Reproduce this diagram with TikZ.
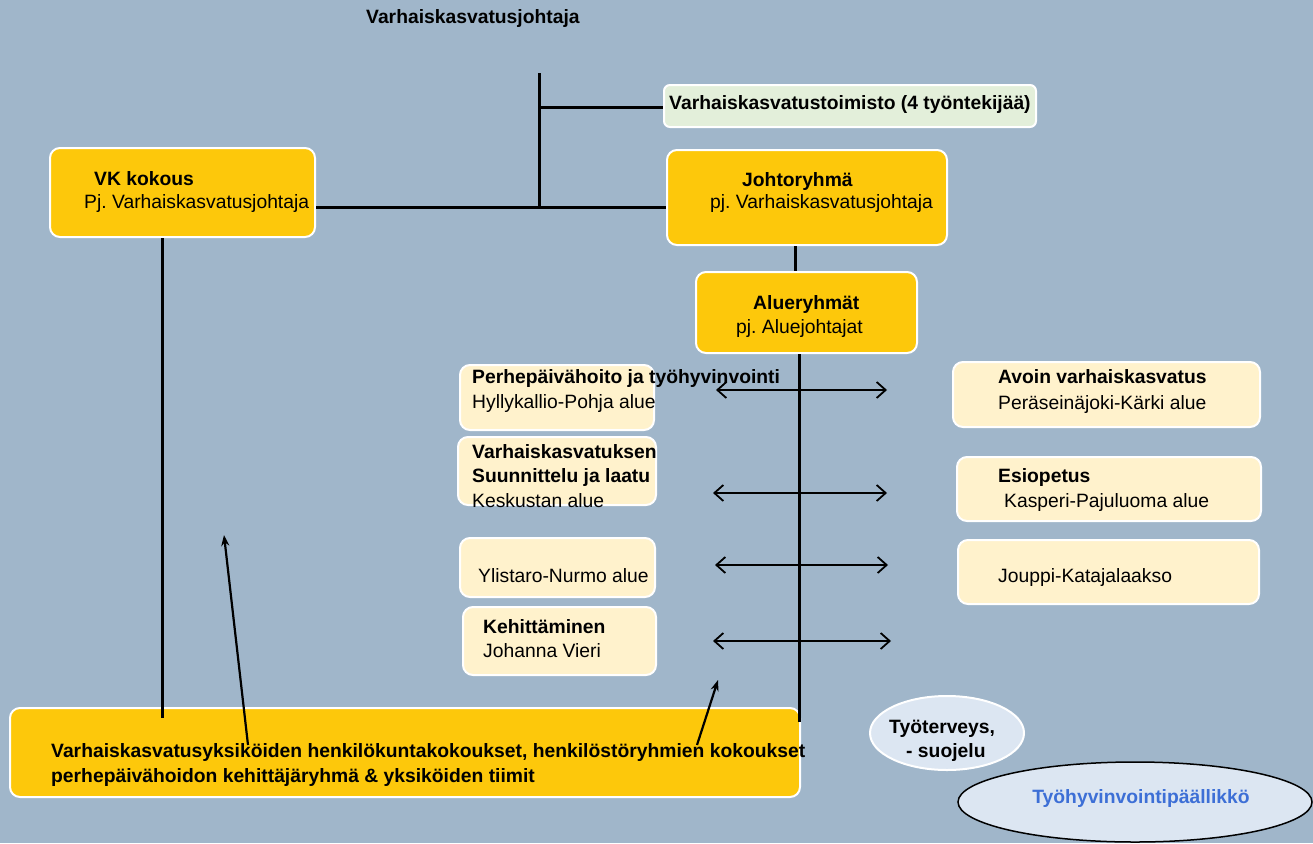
\documentclass[tikz,border=0pt]{standalone}
\usepackage{fontspec}
\setmainfont{Liberation Sans}
\usetikzlibrary{arrows.meta,shapes.geometric}
\definecolor{bgc}{HTML}{A0B6CA}
\definecolor{ylw}{HTML}{FDC80B}
\definecolor{crm}{HTML}{FFF2CC}
\definecolor{grn}{HTML}{E3EFDA}
\definecolor{ellc}{HTML}{DCE6F2}
\definecolor{bluet}{HTML}{3D6FD6}
\frenchspacing
\tikzset{
  box/.style={draw=white, line width=2pt, rounded corners=10pt, inner sep=0pt},
  ybox/.style={box, fill=ylw},
  cbox/.style={box, fill=crm},
  gbox/.style={box, fill=grn, rounded corners=6pt},
  txt/.style={anchor=base west, inner sep=0pt, font=\fontsize{19.3}{23}\selectfont},
  btxt/.style={txt, font=\fontsize{19.3}{23}\selectfont\bfseries},
  conn/.style={line width=3pt, black},
  darr/.style={line width=1.8pt, black, {Straight Barb[length=9pt,width=16pt]}-{Straight Barb[length=9pt,width=16pt]}},
  uarr/.style={line width=2.2pt, black, -{Stealth[length=11pt,width=8pt]}},
}
\begin{document}
\begin{tikzpicture}[x=1pt, y=-1pt]
\useasboundingbox (0,0) rectangle (1313,843);
\fill[bgc] (0,0) rectangle (1313,843);

% boxes
\node[gbox, minimum width=372pt, minimum height=42pt] (toim) at (850,106) {};
\node[ybox, minimum width=265pt, minimum height=89pt] (vk) at (182.5,192.5) {};
\node[ybox, minimum width=280pt, minimum height=95pt] (johto) at (807,197.5) {};
\node[ybox, minimum width=221pt, minimum height=81pt] (alue) at (806.5,312.5) {};
\node[cbox, minimum width=194pt, minimum height=65pt] (l1) at (557,397.5) {};
\node[cbox, minimum width=198pt, minimum height=68pt] (l2) at (557,471) {};
\node[cbox, minimum width=195pt, minimum height=59pt] (l3) at (557.5,567.5) {};
\node[cbox, minimum width=193pt, minimum height=68pt] (l4) at (559.5,641) {};
\node[cbox, minimum width=307pt, minimum height=65pt] (r1) at (1106.5,394.5) {};
\node[cbox, minimum width=304pt, minimum height=64pt] (r2) at (1109,489) {};
\node[cbox, minimum width=301pt, minimum height=64pt] (r3) at (1108.5,572) {};
\node[ybox, minimum width=790pt, minimum height=89pt] (bot) at (405,752.5) {};

% ellipses
\node[draw=white, line width=2pt, fill=ellc, ellipse, minimum width=154pt, minimum height=74pt, inner sep=0pt] (tt) at (947,733) {};
\node[draw=black, line width=1.5pt, fill=ellc, ellipse, minimum width=354pt, minimum height=80pt, inner sep=0pt] (thp) at (1135,802) {};

% connectors
\coordinate (top) at (539,73);
\coordinate (j1) at (539,207);
\coordinate (j2) at (539,107);
\coordinate (cx) at (795,0);
\coordinate (cv) at (799,0);
\coordinate (vend) at (799,722);
\coordinate (vkx) at (162,0);
\coordinate (vkend) at (162,718);
\draw[conn] (top) -- (j1);
\draw[conn] (j2) -- (toim.west |- j2);
\draw[conn] (vk.east |- j1) -- (johto.west |- j1);
\draw[conn] (johto.south -| cx) -- (alue.north -| cx);
\draw[conn] (alue.south -| cv) -- (vend);
\draw[conn] (vk.south -| vkx) -- (vkend);

% double arrows
\coordinate (d1a) at (716,390); \coordinate (d1b) at (887,390);
\coordinate (d2a) at (713,493); \coordinate (d2b) at (887,493);
\coordinate (d3a) at (715,565); \coordinate (d3b) at (888,565);
\coordinate (d4a) at (713,641); \coordinate (d4b) at (891,641);
\draw[darr] (d1a) -- (d1b);
\draw[darr] (d2a) -- (d2b);
\draw[darr] (d3a) -- (d3b);
\draw[darr] (d4a) -- (d4b);

% arrows from bottom box
\coordinate (u1s) at (248,745); \coordinate (u1e) at (224,535);
\coordinate (u2s) at (697,745); \coordinate (u2e) at (718,680);
\draw[uarr] (u1s) -- (u1e);
\draw[uarr] (u2s) -- (u2e);

% texts
\node[btxt] (t0) at (366,24) {Varhaiskasvatusjohtaja};
\node[btxt] (t1) at (669,109) {Varhaiskasvatustoimisto (4 työntekijää)};
\node[btxt] (t2) at (94,185) {VK kokous};
\node[txt] (t3) at (84,208) {Pj. Varhaiskasvatusjohtaja};
\node[btxt] (t4) at (742,186) {Johtoryhmä};
\node[txt] (t5) at (710,208) {pj. Varhaiskasvatusjohtaja};
\node[btxt] (t6) at (753,309) {Alueryhmät};
\node[txt] (t7) at (736,333) {pj. Aluejohtajat};
\node[btxt] (t8) at (472,383) {Perhepäivähoito ja työhyvinvointi};
\node[txt] (t9) at (472,408) {Hyllykallio-Pohja alue};
\node[btxt] (t10) at (472,458) {Varhaiskasvatuksen};
\node[btxt] (t11) at (472,482) {Suunnittelu ja laatu};
\node[txt] (t12) at (472,507) {Keskustan alue};
\node[txt] (t13) at (478,582) {Ylistaro-Nurmo alue};
\node[btxt] (t14) at (483,633) {Kehittäminen};
\node[txt] (t15) at (483,657) {Johanna Vieri};
\node[btxt] (t16) at (998,383) {Avoin varhaiskasvatus};
\node[txt] (t17) at (998,409) {Peräseinäjoki-Kärki alue};
\node[btxt] (t18) at (998,482) {Esiopetus};
\node[txt] (t19) at (1004,507) {Kasperi-Pajuluoma alue};
\node[txt] (t20) at (998,582) {Jouppi-Katajalaakso};
\node[btxt] (t21) at (51,757) {Varhaiskasvatusyksiköiden henkilökuntakokoukset, henkilöstöryhmien kokoukset};
\node[btxt] (t22) at (51,782) {perhepäivähoidon kehittäjäryhmä \& yksiköiden tiimit};
\node[btxt] (t23) at (889,733) {Työterveys,};
\node[btxt] (t24) at (906,757) {- suojelu};
\node[anchor=base, inner sep=0pt, font=\fontsize{19.3}{23}\selectfont\bfseries, text=bluet] (t25) at (1141,803) {Työhyvinvointipäällikkö};
\end{tikzpicture}
\end{document}
